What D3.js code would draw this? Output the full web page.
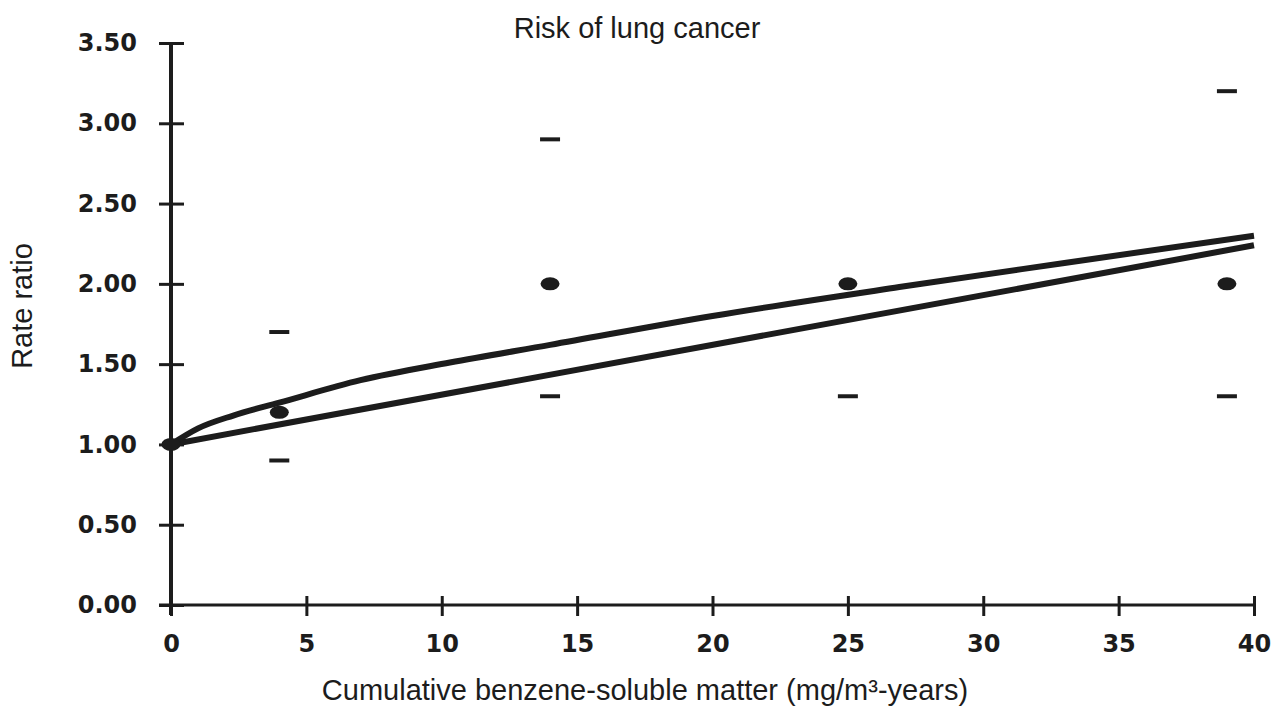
<!DOCTYPE html>
<html>
<head>
<meta charset="utf-8">
<script src="https://cdn.jsdelivr.net/npm/d3@7"></script>
<style>
  body { margin: 0; background: #fff; }
  svg { display: block; }
</style>
</head>
<body>
<svg width="1282" height="709"></svg>
<script>
// observed points (rate ratio with CI dashes)
const exposure = [0, 4, 14, 25, 39];
const rateRatio = [1.0, 1.2, 2.0, 2.0, 2.0];
const ciLower = [null, 0.9, 1.3, 1.3, 1.3];
const ciUpper = [null, 1.7, 2.9, null, 3.2];

// fitted models
const linearX = [0, 40];
const linearY = [1.0, 2.24];
const curveX = [0, 1, 2.3, 4, 7, 10.3, 14, 20, 26.9, 33, 40];
const curveY = [1.0, 1.10, 1.18, 1.26, 1.40, 1.51, 1.62, 1.80, 1.98, 2.13, 2.30];

const xTicks = [0, 5, 10, 15, 20, 25, 30, 35, 40];
const yTicks = [0, 0.5, 1, 1.5, 2, 2.5, 3, 3.5];

const ink = '#1c1c1c';
const svg = d3.select('svg');

const x = d3.scaleLinear().domain([0, 40]).range([171, 1254]);
const y = d3.scaleLinear().domain([0, 3.5]).range([605, 43]);

// title
svg.append('text')
  .attr('x', 637).attr('y', 38)
  .attr('text-anchor', 'middle')
  .attr('font-family', 'Liberation Sans, Arial, sans-serif')
  .attr('font-size', 29)
  .attr('fill', ink)
  .text('Risk of lung cancer');

// y axis
const yAxis = svg.append('g')
  .attr('transform', `translate(${x(0)},0)`)
  .call(d3.axisLeft(y).tickValues(yTicks).tickFormat(d3.format('.2f')).tickSize(0).tickPadding(34));
yAxis.select('.domain').remove();
yAxis.selectAll('.tick line').remove();
yAxis.selectAll('.tick text')
  .attr('font-family', 'DejaVu Sans, sans-serif')
  .attr('font-weight', 'bold')
  .attr('font-size', 24)
  .attr('fill', ink);
yAxis.selectAll('.tick').append('line')
  .attr('x1', -12).attr('x2', 13)
  .attr('stroke', ink).attr('stroke-width', 3);
yAxis.append('line')
  .attr('y1', y(3.5)).attr('y2', y(0) + 10)
  .attr('stroke', ink).attr('stroke-width', 4);

// x axis
const xAxis = svg.append('g')
  .attr('transform', `translate(0,${y(0)})`)
  .call(d3.axisBottom(x).tickValues(xTicks).tickSize(0).tickPadding(30));
xAxis.select('.domain').remove();
xAxis.selectAll('.tick text')
  .attr('font-family', 'DejaVu Sans, sans-serif')
  .attr('font-weight', 'bold')
  .attr('font-size', 24)
  .attr('fill', ink);
xAxis.selectAll('.tick').append('line')
  .attr('y1', -9).attr('y2', 11)
  .attr('stroke', ink).attr('stroke-width', 3);
xAxis.append('line')
  .attr('x1', x(0) - 12).attr('x2', x(40))
  .attr('stroke', ink).attr('stroke-width', 3);

// axis titles
svg.append('text')
  .attr('x', 645).attr('y', 700)
  .attr('text-anchor', 'middle')
  .attr('font-family', 'Liberation Sans, Arial, sans-serif')
  .attr('font-size', 29)
  .attr('fill', ink)
  .text('Cumulative benzene-soluble matter (mg/m³-years)');

svg.append('text')
  .attr('transform', 'translate(32,306) rotate(-90)')
  .attr('text-anchor', 'middle')
  .attr('font-family', 'Liberation Sans, Arial, sans-serif')
  .attr('font-size', 29)
  .attr('fill', ink)
  .text('Rate ratio');

// fitted lines
const line = d3.line().x(d => x(d[0])).y(d => y(d[1]));
svg.append('path')
  .datum(linearX.map((v, i) => [v, linearY[i]]))
  .attr('d', line)
  .attr('fill', 'none').attr('stroke', ink).attr('stroke-width', 6);
svg.append('path')
  .datum(curveX.map((v, i) => [v, curveY[i]]))
  .attr('d', line.curve(d3.curveMonotoneX))
  .attr('fill', 'none').attr('stroke', ink).attr('stroke-width', 6);

// points
const pts = exposure.map((v, i) => ({x: v, rr: rateRatio[i], lo: ciLower[i], hi: ciUpper[i]}));
svg.selectAll('.pt')
  .data(pts)
  .enter()
  .append('ellipse')
  .classed('pt', true)
  .attr('cx', d => x(d.x))
  .attr('cy', d => y(d.rr))
  .attr('rx', 9.5).attr('ry', 6.5)
  .attr('fill', ink);

const dashes = [];
pts.forEach(d => {
  if (d.lo != null) dashes.push({x: d.x, v: d.lo});
  if (d.hi != null) dashes.push({x: d.x, v: d.hi});
});
svg.selectAll('.ci')
  .data(dashes)
  .enter()
  .append('line')
  .classed('ci', true)
  .attr('x1', d => x(d.x) - 10).attr('x2', d => x(d.x) + 10)
  .attr('y1', d => y(d.v)).attr('y2', d => y(d.v))
  .attr('stroke', ink).attr('stroke-width', 4);
</script>
</body>
</html>
